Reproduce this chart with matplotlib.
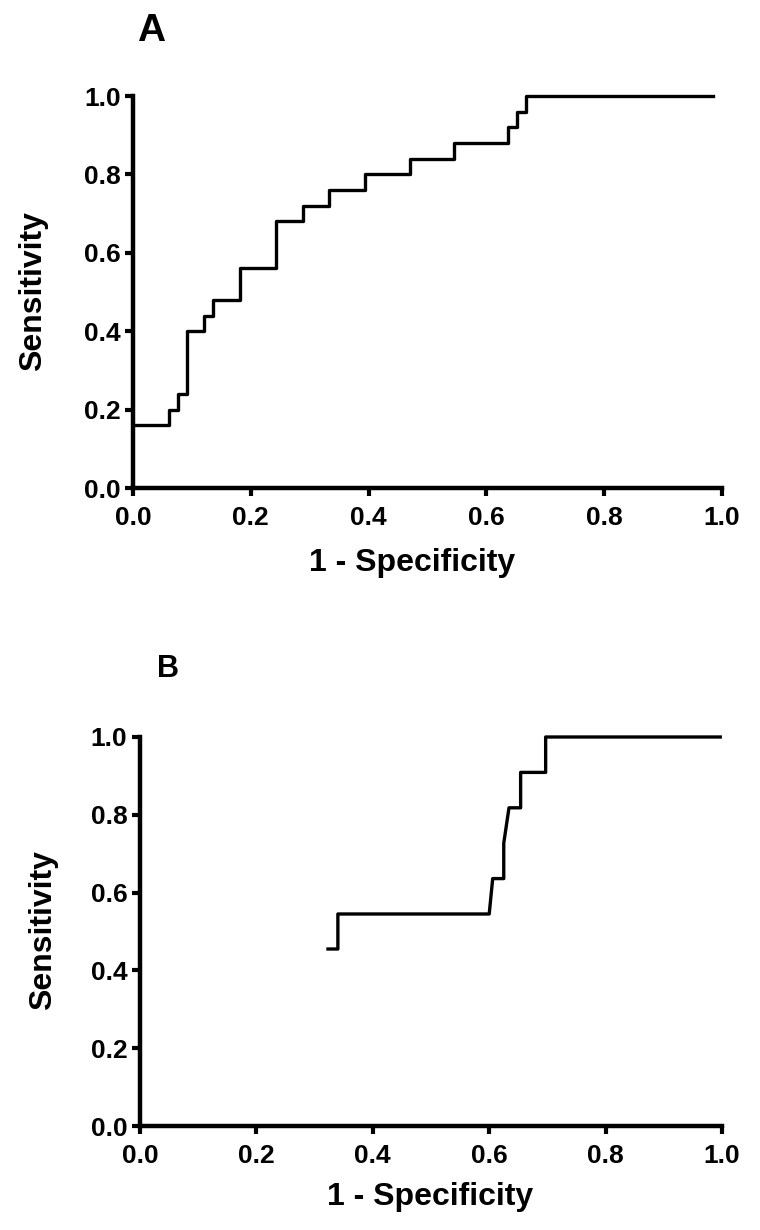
import matplotlib
matplotlib.use("Agg")
import matplotlib.pyplot as plt
from matplotlib.ticker import FormatStrFormatter

# panel A: ROC curve (step), 1 - specificity vs sensitivity
fpr_a = [0.0, 0.061, 0.076, 0.091, 0.121, 0.136, 0.182, 0.242, 0.288,
         0.333, 0.394, 0.470, 0.545, 0.636, 0.652, 0.667, 0.985]
tpr_a = [0.16, 0.20, 0.24, 0.40, 0.44, 0.48, 0.56, 0.68, 0.72,
         0.76, 0.80, 0.84, 0.88, 0.92, 0.96, 1.0, 1.0]

# panel B: ROC curve points
fpr_b = [0.323, 0.340, 0.340, 0.600, 0.606, 0.625, 0.625, 0.634, 0.654,
         0.654, 0.697, 0.697, 0.997]
tpr_b = [0.455, 0.455, 0.545, 0.545, 0.636, 0.636, 0.727, 0.818, 0.818,
         0.909, 0.909, 1.0, 1.0]

ticks = [0.0, 0.2, 0.4, 0.6, 0.8, 1.0]

plt.rcParams['font.family'] = ['Liberation Sans', 'DejaVu Sans']
plt.rcParams['font.weight'] = 'bold'

fig = plt.figure(figsize=(7.6, 12.3), dpi=100)

W, H = 760, 1230


def make_axes(x0, x1, y_top, y_bot):
    return fig.add_axes([x0 / W, 1 - y_bot / H, (x1 - x0) / W, (y_bot - y_top) / H])


def style(ax, xl_pos, yl_pos):
    ax.set_xlim(0, 1)
    ax.set_ylim(0, 1)
    for s in ['top', 'right']:
        ax.spines[s].set_visible(False)
    for s in ['left', 'bottom']:
        ax.spines[s].set_linewidth(3.2)
    ax.set_xticks(ticks)
    ax.set_yticks(ticks)
    ax.xaxis.set_major_formatter(FormatStrFormatter('%.1f'))
    ax.yaxis.set_major_formatter(FormatStrFormatter('%.1f'))
    ax.tick_params(direction='out', length=6, width=3, labelsize=19)
    ax.tick_params(axis='x', pad=7)
    ax.tick_params(axis='y', pad=3)
    for lab in ax.get_xticklabels() + ax.get_yticklabels():
        lab.set_fontweight('bold')
    ax.set_xlabel("1 - Specificity", fontsize=23, fontweight='bold')
    ax.set_ylabel("Sensitivity", fontsize=23, fontweight='bold')
    ax.xaxis.set_label_coords(*xl_pos)
    ax.yaxis.set_label_coords(*yl_pos)
    ax.xaxis.label.set_verticalalignment('center')
    ax.yaxis.label.set_verticalalignment('center')


ax1 = make_axes(133, 722, 96, 488)
ax1.step(fpr_a, tpr_a, where='post', color='black', lw=2.4, clip_on=False)
style(ax1, (0.474, -0.191), (-0.170, 0.503))

ax2 = make_axes(140, 722, 737, 1126)
ax2.plot(fpr_b, tpr_b, color='black', lw=2.4, clip_on=False)
style(ax2, (0.498, -0.183), (-0.167, 0.504))

fig.text(151 / W, 1 - 31 / H, "A", fontsize=28, fontweight='bold', ha='center', va='center')
fig.text(168 / W, 1 - 669 / H, "B", fontsize=22, fontweight='bold', ha='center', va='center')

fig.savefig("out.png", dpi=100)
